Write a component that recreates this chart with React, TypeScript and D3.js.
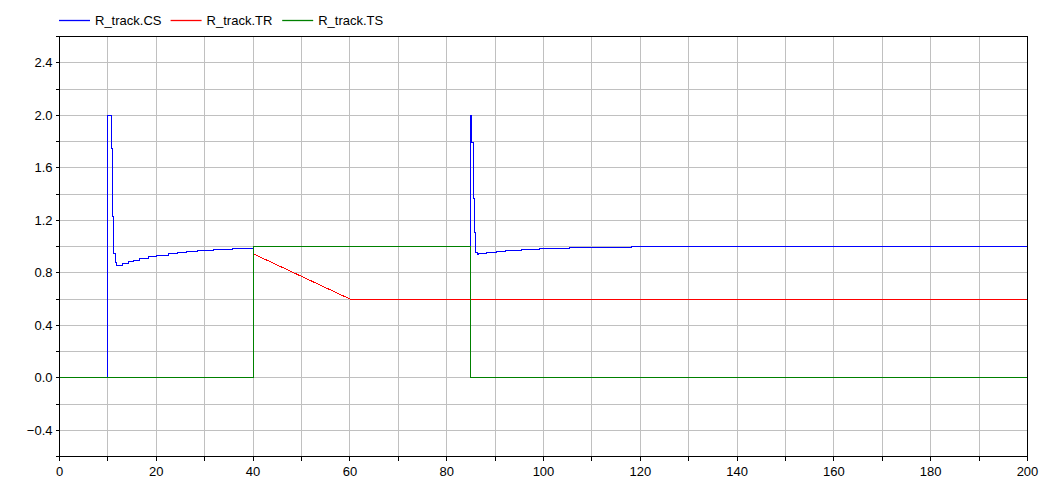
import React from "react";
import * as d3 from "d3";

const W = 1052;
const H = 481;

// Series names & colors
const seriesNames = ["R_track.CS", "R_track.TR", "R_track.TS"];
const seriesColors = ["#0000ff", "#ff0000", "#008000"];

// R_track.CS (step-after samples)
const csT = [0, 10, 10.8, 11.0, 11.2, 11.5, 11.7, 13.1, 14.3, 15.3, 16.5, 18.4, 20.0, 22.5, 24.3, 26.3, 28.5, 31.8, 35.8, 40, 85, 85.2, 85.5, 85.7, 85.95, 86.4, 86.6, 88.3, 90.2, 92.1, 95.5, 99.1, 105.4, 118.1, 200];
const csV = [0, 2.0, 1.75, 1.23, 0.95, 0.88, 0.857, 0.87, 0.883, 0.896, 0.909, 0.921, 0.931, 0.944, 0.954, 0.962, 0.97, 0.98, 0.987, 1.0, 2.0, 1.79, 1.365, 1.107, 0.951, 0.939, 0.947, 0.954, 0.962, 0.97, 0.977, 0.987, 0.995, 1.0, 1.0];

// R_track.TR (linear samples)
const trT = [0, 40, 40, 60, 200];
const trV = [0, 0, 0.945, 0.6, 0.6];

// R_track.TS (step-after samples)
const tsT = [0, 40, 85, 200];
const tsV = [0, 1, 0, 0];

// Axes
const xDomain = [0, 200];
const yDomain = [-0.6, 2.6];
const xGridTicks = d3.range(0, 201, 10);
const xLabelTicks = d3.range(0, 201, 20);
const yGridTicks = d3.range(-6, 27, 2).map((v) => v / 10);
const yLabelTicks = [-0.4, 0.0, 0.4, 0.8, 1.2, 1.6, 2.0, 2.4];

const left = 59.5;
const right = 1027.5;
const top = 36.5;
const bottom = 456.5;

export default function App() {
  const x = d3.scaleLinear().domain(xDomain).range([left, right]);
  const y = d3.scaleLinear().domain(yDomain).range([bottom, top]);

  const step = d3
    .line<[number, number]>()
    .x((d) => x(d[0]))
    .y((d) => y(d[1]))
    .curve(d3.curveStepAfter);
  const lin = d3
    .line<[number, number]>()
    .x((d) => x(d[0]))
    .y((d) => y(d[1]));

  const zip = (t: number[], v: number[]) => t.map((ti, i) => [ti, v[i]] as [number, number]);
  const paths = [
    step(zip(csT, csV)),
    lin(zip(trT, trV)),
    step(zip(tsT, tsV)),
  ];

  const font = "'Liberation Sans', Arial, Helvetica, sans-serif";
  const tickLen = 4;

  return (
    <svg
      width={W}
      height={H}
      style={{ position: "absolute", left: 0, top: 0, background: "#fff" }}
      fontFamily={font}
    >
      <rect x={0} y={0} width={W} height={H} fill="#fff" />
      <defs>
        <clipPath id="plotclip">
          <rect x={left} y={top} width={right - left} height={bottom - top} />
        </clipPath>
      </defs>
      {/* grid */}
      <g stroke="#c0c0c0" strokeWidth={1} shapeRendering="crispEdges">
        {xGridTicks.map((t) => (
          <line key={"gx" + t} x1={x(t)} x2={x(t)} y1={top} y2={bottom} />
        ))}
        {yGridTicks.map((t) => (
          <line key={"gy" + t} x1={left} x2={right} y1={y(t)} y2={y(t)} />
        ))}
      </g>
      {/* series */}
      <g clipPath="url(#plotclip)" fill="none" strokeWidth={1} shapeRendering="crispEdges">
        {paths.map((p, i) => (
          <path key={i} d={p || ""} stroke={seriesColors[i]} />
        ))}
      </g>
      {/* frame & ticks */}
      <g stroke="#000" strokeWidth={1} shapeRendering="crispEdges" fill="none">
        <rect x={left} y={top} width={right - left} height={bottom - top} />
        {xGridTicks.map((t) => (
          <line key={"tx" + t} x1={x(t)} x2={x(t)} y1={bottom} y2={bottom + tickLen} />
        ))}
        {yGridTicks.map((t) => (
          <line key={"ty" + t} x1={left - tickLen} x2={left} y1={y(t)} y2={y(t)} />
        ))}
      </g>
      {/* labels */}
      <g fontSize={13} fill="#000">
        {xLabelTicks.map((t) => (
          <text key={"lx" + t} x={x(t)} y={bottom + 19} textAnchor="middle">
            {d3.format("d")(t)}
          </text>
        ))}
        {yLabelTicks.map((t) => (
          <text key={"ly" + t} x={left - 7} y={y(t) + 4.7} textAnchor="end">
            {d3.format(".1f")(t)}
          </text>
        ))}
      </g>
      {/* legend */}
      <g fontSize={13}>
        {seriesNames.map((n, i) => {
          const lx = 59 + i * 111.6;
          return (
            <g key={n}>
              <line x1={lx} x2={lx + 31} y1={20.5} y2={20.5} stroke={seriesColors[i]} strokeWidth={1.3} />
              <text x={lx + 36} y={25} fill="#000">
                {n}
              </text>
            </g>
          );
        })}
      </g>
    </svg>
  );
}
